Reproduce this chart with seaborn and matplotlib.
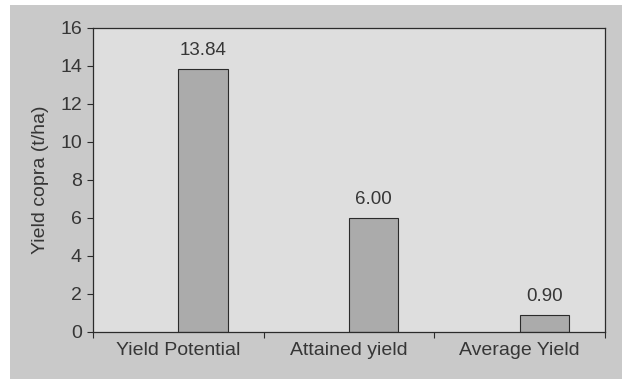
import matplotlib
matplotlib.use("Agg")
import matplotlib.pyplot as plt
from matplotlib.patches import Rectangle
import seaborn as sns
import pandas as pd

categories = ["Yield Potential", "Attained yield", "Average Yield"]
yields = [13.84, 6.00, 0.90]
y_ticks = [0, 2, 4, 6, 8, 10, 12, 14, 16]

sns.set_theme(style="white")
plt.rcParams["font.family"] = ["Liberation Sans", "DejaVu Sans"]

frame_gray = "#c9c9c9"
plot_gray = "#dedede"
bar_gray = "#ababab"
ink = "#363636"
line_ink = "#2b2b2b"

# bars sit to the right of each category centre, as in a two-slot cluster
offset = 0.145
df = pd.DataFrame({
    "pos": [i + offset for i in range(len(categories))],
    "yield": yields,
})

fig = plt.figure(figsize=(6.27, 3.79), dpi=100, facecolor="white")
fig.patches.append(Rectangle((10 / 627, 0), 612 / 627, 374 / 379,
                             transform=fig.transFigure, facecolor=frame_gray,
                             edgecolor="none", zorder=-10))
ax = fig.add_axes([93 / 627, (379 - 332) / 379, 512 / 627, 304 / 379])
ax.set_facecolor(plot_gray)

sns.barplot(data=df, x="pos", y="yield", native_scale=True, width=0.29,
            color=bar_gray, edgecolor=line_ink, linewidth=0.8, saturation=1,
            ax=ax)

for p, v in zip(df["pos"], df["yield"]):
    ax.annotate(f"{v:.2f}", (p, v), xytext=(0, 7), textcoords="offset points",
                ha="center", va="bottom", fontsize=13.5, color=ink)

ax.set_xlim(-0.5, 2.5)
ax.set_ylim(0, 16)
ax.set_yticks(y_ticks)
ax.set_yticklabels([str(t) for t in y_ticks])
ax.set_xticks(range(len(categories)))
ax.set_xticklabels(categories)
ax.set_xticks([-0.5, 0.5, 1.5, 2.5], minor=True)
ax.tick_params(axis="x", which="major", length=0, pad=7, labelsize=14,
               labelcolor=ink)
ax.tick_params(axis="x", which="minor", length=4, width=0.8, color=line_ink,
               direction="out", bottom=True)
ax.tick_params(axis="y", length=4, width=0.8, color=line_ink, direction="out",
               left=True, pad=4, labelsize=14, labelcolor=ink)
ax.set_xlabel("")
ax.set_ylabel("Yield copra (t/ha)", fontsize=14, color=ink, labelpad=8)

for side in ["left", "bottom", "top", "right"]:
    ax.spines[side].set_visible(True)
    ax.spines[side].set_color(line_ink)
    ax.spines[side].set_linewidth(0.9)

fig.savefig("out.png", dpi=100, facecolor=fig.get_facecolor())
